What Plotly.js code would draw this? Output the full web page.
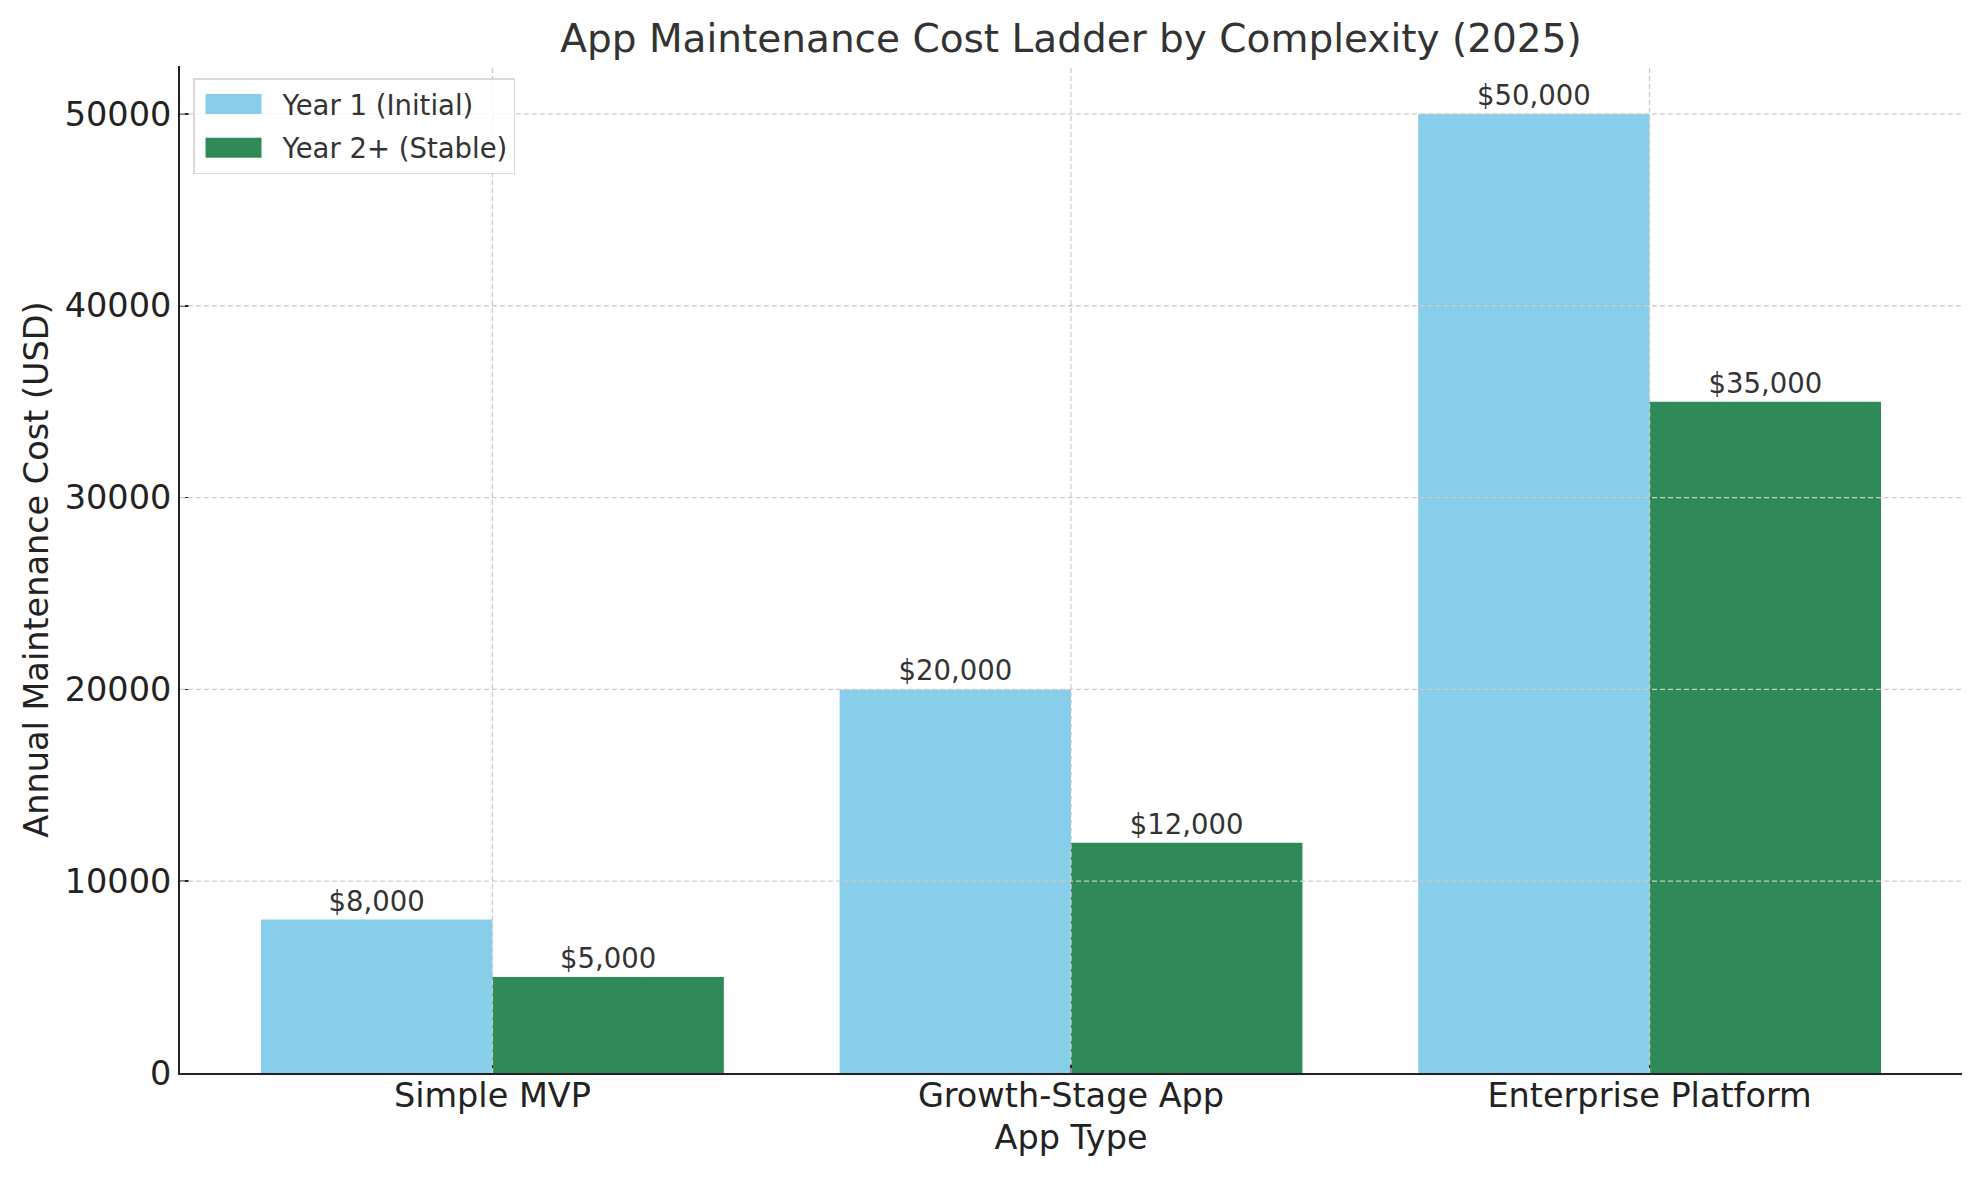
<!DOCTYPE html>
<html><head><meta charset="utf-8">
<script src="https://cdn.plot.ly/plotly-3.0.1.min.js"></script>
<style>html,body{margin:0;padding:0;background:#fff}#chart{width:1980px;height:1180px}</style>
</head><body><div id="chart"></div>
<script>
const appTypes = ['Simple MVP', 'Growth-Stage App', 'Enterprise Platform'];
const year1Costs = [8000, 20000, 50000];
const year2Costs = [5000, 12000, 35000];
const seriesNames = ['Year 1 (Initial)', 'Year 2+ (Stable)'];
const seriesColors = ['#87CEEB', '#2E8B57'];
const yTickValues = [0, 10000, 20000, 30000, 40000, 50000];

const FONT = 'DejaVu Sans, Liberation Sans, sans-serif';
const gridStyle = {color: '#cbcbcb', width: 1.3, dash: '5px,3px'};

function barTrace(name, values, color, group) {
  return {
    type: 'bar', name: name, x: appTypes, y: values, legendgroup: group,
    marker: {color: color, line: {width: 0}},
    texttemplate: '$%{y:,}', textposition: 'outside', cliponaxis: false,
    textfont: {family: FONT, size: 27.5, color: '#333333'},
    hoverinfo: 'skip'
  };
}
const traces = [
  barTrace(seriesNames[0], year1Costs, seriesColors[0], 'g1'),
  barTrace(seriesNames[1], year2Costs, seriesColors[1], 'g2')
];

const gridShapes = [].concat(
  appTypes.map(c => ({type: 'line', xref: 'x', yref: 'paper', x0: c, x1: c, y0: 0, y1: 1, layer: 'above', line: gridStyle})),
  yTickValues.filter(v => v > 0).map(v => ({type: 'line', xref: 'paper', yref: 'y', x0: 0, x1: 1, y0: v, y1: v, layer: 'above', line: gridStyle}))
);

const layout = {
  width: 1980, height: 1180,
  margin: {l: 180, r: 18, t: 66, b: 107},
  paper_bgcolor: '#ffffff', plot_bgcolor: '#ffffff',
  font: {family: FONT, color: '#222222'},
  title: {
    text: 'App Maintenance Cost Ladder by Complexity (2025)',
    font: {family: FONT, size: 39, color: '#333333'},
    x: 0.5, xref: 'paper', xanchor: 'center',
    y: 1 - 38 / 1180, yref: 'container', yanchor: 'middle'
  },
  barmode: 'group', bargap: 0.2, bargroupgap: 0,
  xaxis: {
    type: 'category', range: [-0.54, 2.54],
    showgrid: false, zeroline: false,
    showline: true, linecolor: '#222222', linewidth: 2,
    ticks: 'inside', ticklen: 9, tickwidth: 1.5, tickcolor: '#222222',
    tickfont: {family: FONT, size: 33.5, color: '#222222'},
    ticklabelstandoff: -8,
    title: {text: 'App Type', font: {family: FONT, size: 33.5, color: '#222222'}, standoff: 11},
    fixedrange: true
  },
  yaxis: {
    range: [0, 52500], tickvals: yTickValues, tickformat: 'd',
    showgrid: false, zeroline: false,
    showline: true, linecolor: '#222222', linewidth: 2,
    ticks: 'inside', ticklen: 9, tickwidth: 1.5, tickcolor: '#222222',
    tickfont: {family: FONT, size: 33.5, color: '#222222'},
    title: {text: 'Annual Maintenance Cost (USD)', font: {family: FONT, size: 33.5, color: '#222222'}, standoff: 6},
    fixedrange: true
  },
  showlegend: true,
  legend: {
    x: 0.0073, y: 0.988, xanchor: 'left', yanchor: 'top',
    bgcolor: 'rgba(255,255,255,0.8)', bordercolor: '#d9d9d9', borderwidth: 1.5,
    font: {family: FONT, size: 27.5, color: '#333333'},
    itemwidth: 78, tracegroupgap: 5
  },
  shapes: gridShapes
};

Plotly.newPlot('chart', traces, layout, {staticPlot: true, displayModeBar: false}).then(function (gd) {
  // enlarge legend swatches to match a wide rectangular patch
  gd.querySelectorAll('.legend .legendpoints path').forEach(function (p) {
    p.setAttribute('d', 'M23,10H-33V-10H23Z');
  });
});
</script>
</body></html>
